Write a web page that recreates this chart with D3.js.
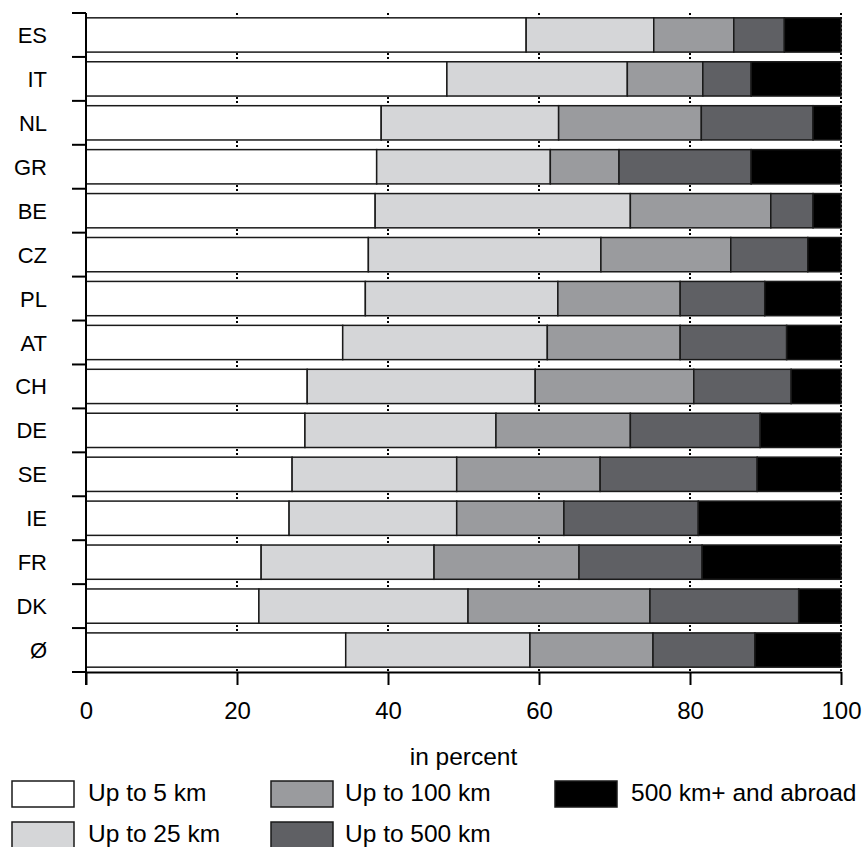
<!DOCTYPE html>
<html>
<head>
<meta charset="utf-8">
<script src="https://cdn.jsdelivr.net/npm/d3@7"></script>
<style>
  body { margin: 0; background: #fff; }
  svg { display: block; }
</style>
</head>
<body>
<svg id="chart" width="863" height="847"></svg>
<script>
    var font = "'Liberation Sans', Arial, sans-serif";

    // country codes, top to bottom
    var countries = ["ES", "IT", "NL", "GR", "BE", "CZ", "PL", "AT", "CH", "DE", "SE", "IE", "FR", "DK", "Ø"];
    var seriesNames = ["Up to 5 km", "Up to 25 km", "Up to 100 km", "Up to 500 km", "500 km+ and abroad"];
    var colors = ["#ffffff", "#d5d6d8", "#9a9b9e", "#5f6064", "#000000"];

    // shares in percent per series (same order as countries)
    var upTo5 = [58.3, 47.8, 39.1, 38.5, 38.3, 37.4, 37.0, 34.0, 29.3, 29.0, 27.3, 26.9, 23.2, 22.9, 34.4];
    var upTo25 = [16.9, 23.9, 23.5, 23.0, 33.8, 30.8, 25.5, 27.1, 30.2, 25.3, 21.8, 22.2, 22.9, 27.7, 24.4];
    var upTo100 = [10.6, 10.0, 18.9, 9.1, 18.6, 17.2, 16.2, 17.6, 21.0, 17.8, 19.0, 14.2, 19.2, 24.1, 16.3];
    var upTo500 = [6.7, 6.4, 14.8, 17.5, 5.6, 10.2, 11.2, 14.1, 12.9, 17.2, 20.8, 17.8, 16.3, 19.7, 13.5];
    var over500 = [7.5, 11.9, 3.7, 11.9, 3.7, 4.4, 10.1, 7.2, 6.6, 10.7, 11.1, 18.9, 18.4, 5.6, 11.4];

    var xTicks = [0, 20, 40, 60, 80, 100];

    var series = [upTo5, upTo25, upTo100, upTo500, over500];
    var keys = ["s0", "s1", "s2", "s3", "s4"];

    var rows = countries.map(function (c, i) {
        var r = { country: c };
        series.forEach(function (s, j) { r[keys[j]] = s[i]; });
        return r;
    });

    var svg = d3.select("#chart");
    var mLeft = 86, mRight = 841, mTop = 13, mBottom = 672;

    var x = d3.scaleLinear().domain([0, 100]).range([mLeft, mRight]);
    var y = d3.scaleBand().domain(countries).range([mTop, mBottom])
        .paddingInner(0.22).paddingOuter(0.11);

    // dotted grid
    svg.append("g").selectAll("line")
        .data(xTicks.slice(1))
        .enter().append("line")
        .attr("x1", function (d) { return x(d); })
        .attr("x2", function (d) { return x(d); })
        .attr("y1", mTop)
        .attr("y2", mBottom)
        .attr("stroke", "#000")
        .attr("stroke-width", 2)
        .attr("stroke-dasharray", "2,2");

    var stacked = d3.stack().keys(keys)(rows);

    svg.append("g").selectAll("g")
        .data(stacked)
        .enter().append("g")
        .attr("fill", function (d, i) { return colors[i]; })
        .selectAll("rect")
        .data(function (d) { return d; })
        .enter().append("rect")
        .attr("x", function (d) { return x(d[0]); })
        .attr("width", function (d) { return x(d[1]) - x(d[0]); })
        .attr("y", function (d) { return y(d.data.country); })
        .attr("height", y.bandwidth())
        .attr("stroke", "#1a1a1a")
        .attr("stroke-width", 1.5);

    // y axis: line + ticks at band edges
    var edges = countries.map(function (c) { return y(c) - y.step() * y.paddingInner() / 2; });
    edges[0] = mTop;
    edges.push(mBottom);
    svg.append("line")
        .attr("x1", mLeft).attr("x2", mLeft)
        .attr("y1", mTop).attr("y2", mBottom + 13)
        .attr("stroke", "#000").attr("stroke-width", 2);
    svg.append("g").selectAll("line")
        .data(edges)
        .enter().append("line")
        .attr("x1", 72).attr("x2", mLeft)
        .attr("y1", function (d) { return d; })
        .attr("y2", function (d) { return d; })
        .attr("stroke", "#000").attr("stroke-width", 2);

    svg.append("g").selectAll("text")
        .data(countries)
        .enter().append("text")
        .attr("x", 47)
        .attr("y", function (d) { return y(d) + y.bandwidth() / 2 + 8; })
        .attr("text-anchor", "end")
        .attr("font-family", font)
        .attr("font-size", "22px")
        .text(function (d) { return d; });

    // x axis
    var xAxis = svg.append("g")
        .attr("transform", "translate(0," + mBottom + ")")
        .call(d3.axisBottom(x).tickValues(xTicks).tickSize(13).tickPadding(17).tickSizeOuter(0));
    xAxis.select(".domain").attr("stroke-width", 2);
    xAxis.selectAll(".tick line").attr("stroke-width", 2);
    xAxis.selectAll("text")
        .attr("font-family", font)
        .attr("font-size", "24px")
        .attr("fill", "#000");

    svg.append("text")
        .attr("x", (mLeft + mRight) / 2)
        .attr("y", 765)
        .attr("text-anchor", "middle")
        .attr("font-family", font)
        .attr("font-size", "24.5px")
        .text("in percent");

    // legend
    var legendPos = [[12, 781], [12, 822], [271, 781], [271, 822], [555, 781]];
    var leg = svg.append("g").selectAll("g")
        .data(seriesNames)
        .enter().append("g")
        .attr("transform", function (d, i) { return "translate(" + legendPos[i][0] + "," + legendPos[i][1] + ")"; });
    leg.append("rect")
        .attr("width", 62).attr("height", 26)
        .attr("fill", function (d, i) { return colors[i]; })
        .attr("stroke", "#1a1a1a")
        .attr("stroke-width", 1.5);
    leg.append("text")
        .attr("x", function (d, i) { return i < 2 ? 76 : (i == 4 ? 76 : 74); })
        .attr("y", 20)
        .attr("font-family", font)
        .attr("font-size", "24.5px")
        .text(function (d) { return d; });
</script>
</body>
</html>
